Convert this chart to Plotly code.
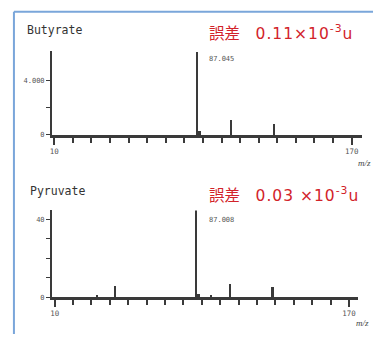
import plotly.graph_objects as go

# Spectrum data (m/z vs. intensity)
butyrate_mz = [87.045, 88.0, 105.0, 128.0]
butyrate_int = [6080, 250, 1100, 750]
butyrate_label = "87.045"

pyruvate_mz = [33.0, 43.0, 87.008, 88.0, 95.0, 105.0, 128.0]
pyruvate_int = [1.0, 5.5, 44.5, 1.5, 0.8, 6.5, 5.0]
pyruvate_label = "87.008"

butyrate_error = ("誤差　<span style=\"font-family:DejaVu Sans;letter-spacing:1px\">"
                  "0.11×10<sup>-3</sup>u</span>")
pyruvate_error = ("誤差　<span style=\"font-family:DejaVu Sans;letter-spacing:1px\">"
                  "0.03 ×10<sup>-3</sup>u</span>")

W, H = 374, 338
INK = "#3a3a3a"
RED = "#d2232a"
BLUE = "#7aa6da"
MONO = "DejaVu Sans Mono"
JP = "Noto Sans CJK JP"


def px(x):
    return x / W


def py(y):
    return 1 - y / H


fig = go.Figure()

fig.add_trace(go.Bar(
    x=butyrate_mz, y=butyrate_int,
    width=[0.8, 1.6, 0.8, 0.8],
    marker=dict(color=INK, line=dict(width=0)),
    xaxis="x", yaxis="y", showlegend=False, hoverinfo="skip",
))
fig.add_trace(go.Bar(
    x=pyruvate_mz, y=pyruvate_int,
    width=[0.6, 0.8, 0.8, 1.6, 0.6, 0.8, 1.6],
    marker=dict(color=INK, line=dict(width=0)),
    xaxis="x2", yaxis="y2", showlegend=False, hoverinfo="skip",
))

xcommon = dict(
    showline=True, linecolor=INK, linewidth=2.5,
    showgrid=False, zeroline=False,
    ticks="outside", tickcolor=INK, tickwidth=1.8, ticklen=7,
    tickvals=[10, 170],
    tickfont=dict(family=MONO, size=7.5, color="#555"),
    minor=dict(ticks="outside", tickvals=list(range(20, 170, 10)),
               ticklen=5, tickcolor=INK, tickwidth=1.8),
)
ycommon = dict(
    showline=True, linecolor=INK, linewidth=1.5,
    showgrid=False, zeroline=False,
    ticks="outside", tickcolor=INK, tickwidth=1.2, ticklen=4,
    tickfont=dict(family=MONO, size=7, color="#555"),
)

fig.update_layout(
    width=W, height=H,
    margin=dict(l=0, r=0, t=0, b=0),
    paper_bgcolor="white", plot_bgcolor="white",
    bargap=0,
    xaxis=dict(domain=[px(50), px(362)], range=[8.66, 175.6], anchor="y", **xcommon),
    yaxis=dict(domain=[py(136.5), py(52)], range=[0, 6150], anchor="x",
               tickvals=[0, 4000], ticktext=["0", "4.000"],
               minor=dict(ticks="outside", tickvals=[2000], ticklen=4,
                          tickcolor=INK, tickwidth=1.2),
               **ycommon),
    xaxis2=dict(domain=[px(50), px(358)], range=[8.4, 174.9], anchor="y2", **xcommon),
    yaxis2=dict(domain=[py(301), py(213)], range=[0, 44.5], anchor="x2",
                tickvals=[0, 40],
                minor=dict(ticks="outside", tickvals=[10, 20, 30], ticklen=4,
                           tickcolor=INK, tickwidth=1.2),
                **ycommon),
)

# Frame lines along the top and left edges
fig.add_shape(type="line", xref="paper", yref="paper",
              x0=px(12), x1=px(373), y0=py(12), y1=py(12),
              line=dict(color=BLUE, width=2))
fig.add_shape(type="line", xref="paper", yref="paper",
              x0=px(12), x1=px(12), y0=py(12), y1=0,
              line=dict(color=BLUE, width=2))

ann = []
# Panel titles
ann.append(dict(text="Butyrate", x=px(23), y=py(30), xref="paper", yref="paper",
                xanchor="left", yanchor="middle", showarrow=False,
                font=dict(family=MONO, size=11.5, color="#333")))
ann.append(dict(text="Pyruvate", x=px(26), y=py(193), xref="paper", yref="paper",
                xanchor="left", yanchor="middle", showarrow=False,
                font=dict(family=MONO, size=11.5, color="#333")))
# Mass error notes
ann.append(dict(text=butyrate_error, x=px(206), y=py(32), xref="paper", yref="paper",
                xanchor="left", yanchor="middle", showarrow=False,
                font=dict(family=JP, size=15.5, color=RED)))
ann.append(dict(text=pyruvate_error, x=px(206), y=py(196), xref="paper", yref="paper",
                xanchor="left", yanchor="middle", showarrow=False,
                font=dict(family=JP, size=15.5, color=RED)))
# Base peak labels
ann.append(dict(text=butyrate_label, x=butyrate_mz[0], y=butyrate_int[0], xref="x", yref="y",
                xanchor="left", yanchor="middle", xshift=10, yshift=-7, showarrow=False,
                font=dict(family=MONO, size=7, color="#555")))
ann.append(dict(text=pyruvate_label, x=pyruvate_mz[2], y=pyruvate_int[2], xref="x2", yref="y2",
                xanchor="left", yanchor="middle", xshift=11, yshift=-10, showarrow=False,
                font=dict(family=MONO, size=7, color="#555")))
# Axis unit labels
ann.append(dict(text="<i>m/z</i>", x=px(364), y=py(165), xref="paper", yref="paper",
                xanchor="center", yanchor="middle", showarrow=False,
                font=dict(family="Liberation Serif", size=9, color="#444")))
ann.append(dict(text="<i>m/z</i>", x=px(362), y=py(327), xref="paper", yref="paper",
                xanchor="center", yanchor="middle", showarrow=False,
                font=dict(family="Liberation Serif", size=9, color="#444")))

fig.update_layout(annotations=ann)

fig.write_html("out.html")
